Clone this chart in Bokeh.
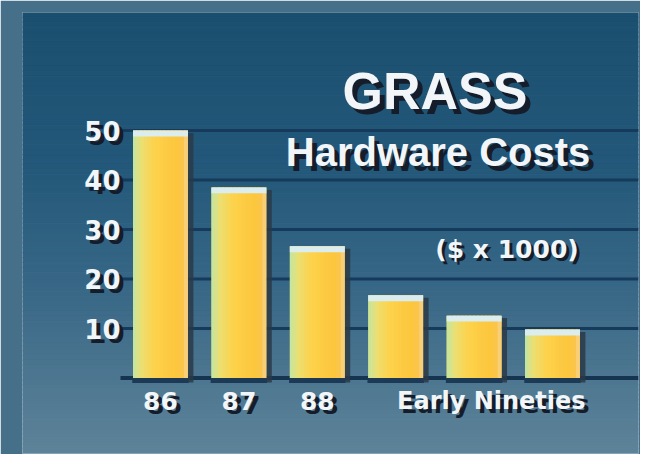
from bokeh.plotting import figure
from bokeh.models import ColumnDataSource, Range1d
from bokeh.core.properties import value
from bokeh.transform import dodge
from bokeh.embed import file_html
from bokeh.resources import INLINE

# ---------------- data ----------------
bar_labels = ["86", "87", "88", "", "", ""]
costs = [50, 38.5, 26.6, 16.7, 12.6, 9.8]          # $ x 1000
group_label = "Early Nineties"
group_members = [3, 4, 5]
y_ticks = [10, 20, 30, 40, 50]
title_text = "GRASS"
subtitle_text = "Hardware Costs"
unit_text = "($ x 1000)"

idx = list(range(len(costs)))

# ---------------- helpers ----------------
def mix(c1, c2, t):
    a = [int(c1[i:i + 2], 16) for i in (1, 3, 5)]
    b = [int(c2[i:i + 2], 16) for i in (1, 3, 5)]
    return "#%02x%02x%02x" % tuple(round(a[k] + (b[k] - a[k]) * t) for k in range(3))


def ramp(stops, t):
    for (t0, c0), (t1, c1) in zip(stops, stops[1:]):
        if t <= t1:
            return mix(c0, c1, (t - t0) / (t1 - t0) if t1 > t0 else 0)
    return stops[-1][1]


X0, X1 = -1.760, 6.097
Y0, Y1 = -15.25, 73.84

p = figure(
    width=640, height=454,
    x_range=Range1d(X0, X1), y_range=Range1d(Y0, Y1),
    x_axis_type=None, y_axis_type=None,
    output_backend="svg", toolbar_location=None,
    min_border_left=22, min_border_right=2,
    min_border_top=12, min_border_bottom=1,
    border_fill_color="#466f8a", outline_line_color=None,
)
p.grid.visible = False

# -------- panel background (vertical gradient) --------
bg_stops = [(0.0, "#1b4f6f"), (0.35, "#23587a"), (0.65, "#3a6987"), (1.0, "#5e8399")]
n_bg = 90
edges = [Y1 - (Y1 - Y0) * i / n_bg for i in range(n_bg + 1)]
p.quad(left=X0, right=X1,
       top=edges[:-1], bottom=edges[1:],
       color=[ramp(bg_stops, (i + 0.5) / n_bg) for i in range(n_bg)])

# -------- grid lines --------
p.segment(x0=-0.51, x1=X1, y0=y_ticks, y1=y_ticks, line_color="#163a5b", line_width=3)
p.segment(x0=-0.51, x1=X1, y0=[0], y1=[0], line_color="#14344f", line_width=4)

# -------- bars --------
BW = 0.70
src = ColumnDataSource(dict(
    x=idx, top=costs,
    hl_bottom=[c - 1.2 for c in costs],
    sh_top=[c - 0.5 for c in costs],
))

# drop shadow right of / under each bar
p.vbar(x="x", top=0, bottom=-1.0, width=BW + 0.02, source=src,
       fill_color="#1c3a55", line_color=None)
p.vbar(x=dodge("x", BW / 2 + 0.035), top="sh_top", bottom=-0.9, width=0.07,
       source=src, fill_color="#2a3a46", line_color=None, fill_alpha=0.85)

# base fill, then a left-to-right colour ramp over it
p.vbar(x="x", top="top", bottom=0, width=BW, source=src,
       fill_color="#fcca42", line_color=None)
bar_stops = [(0.0, "#bde7a8"), (0.18, "#ecdf72"), (0.42, "#fdd24a"),
             (0.85, "#fcc53c"), (0.95, "#f9c65a"), (1.0, "#f6e2c0")]
n_strip = 14
sw = BW / n_strip
for k in range(n_strip):
    off = -BW / 2 + sw * (k + 0.5)
    w = sw * 1.6 if 0 < k < n_strip - 1 else sw
    p.vbar(x=dodge("x", off), top="top", bottom=0, width=w,
           source=src, fill_color=ramp(bar_stops, (k + 0.5) / n_strip), line_color=None)

# pale highlight along each bar's top
p.vbar(x="x", top="top", bottom="hl_bottom", width=BW, source=src,
       fill_color="#dcedf0", line_color=None)

# -------- texts --------
FONT = value("DejaVu Sans")
TFONT = value("Liberation Sans")
SHADOW = "#151c2a"
WHITE = "#f2f6f8"


def label(x, y, txt, size, font=FONT, align="center", baseline="alphabetic", off=4):
    for color, dx in ((SHADOW, off), (WHITE, 0)):
        p.text(x=x, y=y, text=txt, text_color=color,
               x_offset=dx, y_offset=dx,
               text_font=font, text_font_style="bold", text_font_size=size,
               text_align=align, text_baseline=baseline)


# y tick labels
label([-0.51] * len(y_ticks), y_ticks, [str(t) for t in y_ticks], "26px",
      align="right", baseline="middle", off=4)

# x labels
shown = [i for i, s in enumerate(bar_labels) if s]
label(shown, [-4.6] * len(shown), [bar_labels[i] for i in shown], "25px", off=4)
gx = sum(group_members) / len(group_members) + 0.22
label([gx], [-4.6], [group_label], "24px", off=4)

# titles
label([3.50], [58.0], [title_text], "52px", font=TFONT, off=5)
label([3.54], [45.7], [subtitle_text], "40px", font=TFONT, off=5)
label([4.42], [25.9], [unit_text], "25px", off=3)

open("out.html", "w").write(file_html(p, INLINE))
